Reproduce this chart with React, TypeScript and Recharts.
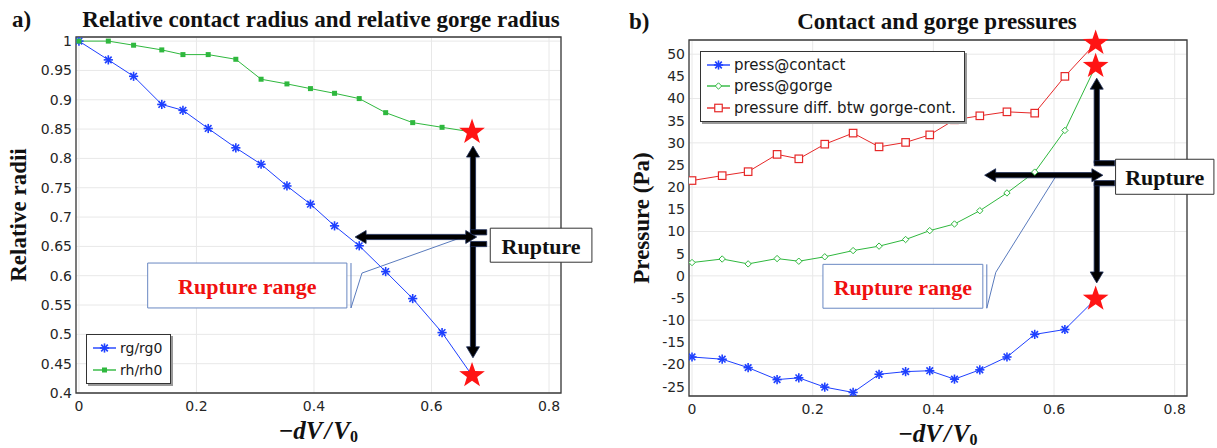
import {
  LineChart,
  Line,
  XAxis,
  YAxis,
  CartesianGrid,
  Legend,
  ReferenceLine,
  ReferenceArea,
  ReferenceDot,
} from 'recharts';

// −dV/V0 sample positions, shared by both panels
const volumeRatio = [0, 0.05, 0.093, 0.141, 0.177, 0.22, 0.267, 0.31, 0.354, 0.394, 0.435, 0.477, 0.522, 0.568, 0.618, 0.669];

// panel a) relative radii
const rgRatio = [1.0, 0.968, 0.94, 0.892, 0.882, 0.851, 0.818, 0.79, 0.753, 0.722, 0.685, 0.651, 0.607, 0.561, 0.503, 0.43];
const rhRatio = [1.0, 1.0, 0.993, 0.985, 0.977, 0.977, 0.969, 0.935, 0.927, 0.919, 0.911, 0.902, 0.878, 0.861, 0.853, 0.845];

// panel b) pressures (Pa)
const pressContact = [-18.3, -18.8, -20.7, -23.4, -23.0, -25.1, -26.3, -22.2, -21.6, -21.4, -23.3, -21.2, -18.3, -13.2, -12.1, -5.2];
const pressGorge = [3.0, 3.8, 2.7, 3.9, 3.3, 4.3, 5.7, 6.7, 8.2, 10.2, 11.7, 14.7, 18.7, 23.4, 32.8, 47.3];
const pressDiff = [21.5, 22.6, 23.5, 27.4, 26.4, 29.7, 32.2, 29.1, 30.1, 31.8, 35.2, 36.1, 37.0, 36.7, 45.0, 52.5];

const xTicks = [0, 0.2, 0.4, 0.6, 0.8];
const radiiTicks = [0.4, 0.45, 0.5, 0.55, 0.6, 0.65, 0.7, 0.75, 0.8, 0.85, 0.9, 0.95, 1];
const pressureTicks = [-25, -20, -15, -10, -5, 0, 5, 10, 15, 20, 25, 30, 35, 40, 45, 50];

const radiiData = volumeRatio.map((x, i) => ({ x, rg: rgRatio[i], rh: rhRatio[i] }));
const pressureData = volumeRatio.map((x, i) => ({
  x,
  contact: pressContact[i],
  gorge: pressGorge[i],
  diff: pressDiff[i],
}));
// the last sample is the rupture point, marked with a star instead of the series marker
const last = volumeRatio.length - 1;

const X_DOMAIN: [number, number] = [-0.005, 0.8204];
const RADII_DOMAIN: [number, number] = [0.4, 1.007];
const PRESSURE_DOMAIN: [number, number] = [-27.1, 53.2];

const BLUE = '#1e40ff';
const GREEN = '#2fb83e';
const RED = '#e62828';
const CALLOUT = '#5a7bbd';
const SERIF = '"Liberation Serif", "Times New Roman", serif';
const SANS = '"DejaVu Sans", sans-serif';

const tickStyle = { fill: '#262626', fontSize: 14, fontFamily: SANS };

// ---- markers ----
const Asterisk = ({ cx, cy, color, r = 4.6 }: any) => {
  const d = r * 0.72;
  return (
    <g stroke={color} strokeWidth={1.6}>
      <line x1={cx - r} y1={cy} x2={cx + r} y2={cy} />
      <line x1={cx} y1={cy - r} x2={cx} y2={cy + r} />
      <line x1={cx - d} y1={cy - d} x2={cx + d} y2={cy + d} />
      <line x1={cx - d} y1={cy + d} x2={cx + d} y2={cy - d} />
    </g>
  );
};

const Square = ({ cx, cy, color, size, filled }: any) => (
  <rect
    x={cx - size / 2}
    y={cy - size / 2}
    width={size}
    height={size}
    fill={filled ? color : '#fff'}
    stroke={color}
    strokeWidth={filled ? 0 : 1.2}
  />
);

const Diamond = ({ cx, cy, color, r = 3.2 }: any) => (
  <polygon
    points={`${cx},${cy - r} ${cx + r},${cy} ${cx},${cy + r} ${cx - r},${cy}`}
    fill="#fff"
    stroke={color}
    strokeWidth={1}
  />
);

// series dot that leaves the rupture point free for the star
const seriesDot = (id: string, draw: (cx: number, cy: number) => any) => (p: any) =>
  p.index === last ? <g key={`${id}-${p.index}`} /> : <g key={`${id}-${p.index}`}>{draw(p.cx, p.cy)}</g>;

const starShape = (props: any) => {
  const { cx, cy } = props;
  const pts: string[] = [];
  for (let i = 0; i < 10; i++) {
    const rad = i % 2 === 0 ? 13.5 : 5.4;
    const a = -Math.PI / 2 + (i * Math.PI) / 5;
    pts.push(`${cx + rad * Math.cos(a)},${cy + rad * Math.sin(a)}`);
  }
  return <polygon points={pts.join(' ')} fill="#ff1414" />;
};

// thick black annotation arrow drawn along a reference segment
const arrowShape = (heads: 'start' | 'end' | 'both' | 'none') => (props: any) => {
  const { x1, y1, x2, y2 } = props;
  const dx = x2 - x1;
  const dy = y2 - y1;
  const len = Math.hypot(dx, dy) || 1;
  const ux = dx / len;
  const uy = dy / len;
  const nx = -uy;
  const ny = ux;
  const shaft = 2.6;
  const headW = 6.5;
  const headL = 11;
  const pt = (along: number, across: number) =>
    `${x1 + ux * along + nx * across},${y1 + uy * along + ny * across}`;
  const hasStart = heads === 'start' || heads === 'both';
  const hasEnd = heads === 'end' || heads === 'both';
  const pts: string[] = [];
  if (hasStart) pts.push(pt(0, 0), pt(headL, headW), pt(headL, shaft));
  else pts.push(pt(0, shaft));
  if (hasEnd) pts.push(pt(len - headL, shaft), pt(len - headL, headW), pt(len, 0), pt(len - headL, -headW), pt(len - headL, -shaft));
  else pts.push(pt(len, shaft), pt(len, -shaft));
  if (hasStart) pts.push(pt(headL, -shaft), pt(headL, -headW));
  else pts.push(pt(0, -shaft));
  return <polygon points={pts.join(' ')} fill="#000" stroke="#1c2c58" strokeWidth={0.8} />;
};

const boxText = (text: string, color: string) => (props: any) => {
  const { x, y, width, height } = props.viewBox;
  return (
    <text
      x={x + width / 2}
      y={y + height / 2 + 1}
      dy="0.35em"
      textAnchor="middle"
      fontFamily={SERIF}
      fontWeight="bold"
      fontSize={22}
      fill={color}
    >
      {text}
    </text>
  );
};

const yLabel = (text: string, cxOffset: number) => (props: any) => {
  const { x, y, height } = props.viewBox;
  const cx = x + cxOffset;
  const cy = y + height / 2;
  return (
    <text
      x={cx}
      y={cy}
      dy="0.35em"
      transform={`rotate(-90, ${cx}, ${cy})`}
      textAnchor="middle"
      fontFamily={SERIF}
      fontWeight="bold"
      fontSize={23}
      fill="#111"
    >
      {text}
    </text>
  );
};

const xLabel = (props: any) => {
  const { x, y, width } = props.viewBox;
  return (
    <text
      x={x + width / 2}
      y={y + 46}
      textAnchor="middle"
      fontFamily={SERIF}
      fontWeight="bold"
      fontSize={25}
      fill="#111"
    >
      <tspan>−</tspan>
      <tspan fontStyle="italic">dV</tspan>
      <tspan fontStyle="italic" dx={2}>/</tspan>
      <tspan fontStyle="italic" dx={2}>V</tspan>
      <tspan fontSize={16} dy={3}>0</tspan>
    </text>
  );
};

const renderLegend = (items: Array<{ name: string; color: string; marker: (cx: number, cy: number) => any }>, fontSize: number, rowH: number) => () => (
  <div
    style={{
      border: '1px solid #333',
      background: '#fff',
      boxShadow: '2px 2px 0 #9a9a9a',
      padding: '2px 8px 2px 6px',
      fontFamily: SANS,
      fontSize,
      color: '#1a1a1a',
      whiteSpace: 'nowrap',
    }}
  >
    {items.map((it) => (
      <div key={it.name} style={{ display: 'flex', alignItems: 'center', height: rowH }}>
        <svg width={23} height={12} style={{ overflow: 'visible' }}>
          <line x1={0} y1={6} x2={23} y2={6} stroke={it.color} strokeWidth={1.4} />
          {it.marker(11.5, 6)}
        </svg>
        <span style={{ marginLeft: 4 }}>{it.name}</span>
      </div>
    ))}
  </div>
);

const titleStyle = {
  position: 'absolute' as const,
  fontFamily: SERIF,
  fontWeight: 'bold' as const,
  fontSize: 23,
  lineHeight: '26px',
  color: '#111',
  whiteSpace: 'nowrap' as const,
};

const RadiiChart = () => (
  <LineChart width={600} height={448} data={radiiData} margin={{ top: 37, right: 39, bottom: 25, left: 0 }}>
    <CartesianGrid stroke="#e8e8e8" />
    <XAxis
      type="number"
      dataKey="x"
      domain={X_DOMAIN}
      ticks={xTicks}
      allowDataOverflow
      height={30}
      tickLine={false}
      axisLine={false}
      tick={tickStyle}
      label={xLabel}
    />
    <YAxis
      type="number"
      domain={RADII_DOMAIN}
      ticks={radiiTicks}
      allowDataOverflow
      width={76}
      tickSize={4}
      tickMargin={0}
      tickLine={false}
      axisLine={false}
      tick={tickStyle}
      label={yLabel('Relative radii', 18)}
    />
    <ReferenceArea x1={X_DOMAIN[0]} x2={X_DOMAIN[1]} y1={RADII_DOMAIN[0]} y2={RADII_DOMAIN[1]} fill="none" stroke="#3a3a3a" strokeWidth={1.3} ifOverflow="visible" />

    {/* callout from the rupture range box */}
    <ReferenceLine segment={[{ x: 0.463, y: 0.6216 }, { x: 0.463, y: 0.545 }]} stroke={CALLOUT} strokeWidth={1} ifOverflow="visible" />
    <ReferenceLine segment={[{ x: 0.463, y: 0.545 }, { x: 0.4817, y: 0.6045 }]} stroke={CALLOUT} strokeWidth={1} ifOverflow="visible" />
    <ReferenceLine segment={[{ x: 0.4817, y: 0.6045 }, { x: 0.672, y: 0.6727 }]} stroke={CALLOUT} strokeWidth={1} ifOverflow="visible" />
    <ReferenceArea x1={0.117} x2={0.456} y1={0.545} y2={0.6216} fill="#fff" fillOpacity={1} stroke="#6a88c2" strokeWidth={1} ifOverflow="visible" label={boxText('Rupture range', '#f01010')} />

    <Line
      type="linear"
      dataKey="rg"
      stroke={BLUE}
      strokeWidth={1}
      isAnimationActive={false}
      activeDot={false}
      dot={seriesDot('rg', (cx, cy) => <Asterisk cx={cx} cy={cy} color={BLUE} />)}
    />
    <Line
      type="linear"
      dataKey="rh"
      stroke={GREEN}
      strokeWidth={1}
      isAnimationActive={false}
      activeDot={false}
      dot={seriesDot('rh', (cx, cy) => <Square cx={cx} cy={cy} color={GREEN} size={5} filled />)}
    />

    {/* rupture arrows */}
    <ReferenceLine segment={[{ x: 0.6706, y: 0.821 }, { x: 0.6706, y: 0.674 }]} shape={arrowShape('start')} ifOverflow="visible" />
    <ReferenceLine segment={[{ x: 0.6706, y: 0.654 }, { x: 0.6706, y: 0.46 }]} shape={arrowShape('end')} ifOverflow="visible" />
    <ReferenceLine segment={[{ x: 0.6663, y: 0.674 }, { x: 0.694, y: 0.674 }]} shape={arrowShape('none')} ifOverflow="visible" />
    <ReferenceLine segment={[{ x: 0.6663, y: 0.654 }, { x: 0.694, y: 0.654 }]} shape={arrowShape('none')} ifOverflow="visible" />
    <ReferenceLine segment={[{ x: 0.47, y: 0.666 }, { x: 0.677, y: 0.666 }]} shape={arrowShape('both')} ifOverflow="visible" />
    <ReferenceArea x1={0.7} x2={0.873} y1={0.623} y2={0.681} fill="#fff" fillOpacity={1} stroke="#333" strokeWidth={1} ifOverflow="visible" label={boxText('Rupture', '#111')} />

    <ReferenceDot x={volumeRatio[last]} y={rhRatio[last]} shape={starShape} ifOverflow="visible" />
    <ReferenceDot x={volumeRatio[last]} y={rgRatio[last]} shape={starShape} ifOverflow="visible" />

    <Legend
      layout="vertical"
      align="center"
      verticalAlign="middle"
      wrapperStyle={{ left: 86, top: 334, width: 'auto' }}
      content={renderLegend(
        [
          { name: 'rg/rg0', color: BLUE, marker: (cx, cy) => <Asterisk cx={cx} cy={cy} color={BLUE} /> },
          { name: 'rh/rh0', color: GREEN, marker: (cx, cy) => <Square cx={cx} cy={cy} color={GREEN} size={5} filled /> },
        ],
        14,
        22,
      )}
    />
  </LineChart>
);

const PressureChart = () => (
  <LineChart width={607} height={448} data={pressureData} margin={{ top: 40, right: 30, bottom: 22, left: 0 }}>
    <CartesianGrid stroke="#e8e8e8" />
    <XAxis
      type="number"
      dataKey="x"
      domain={X_DOMAIN}
      ticks={xTicks}
      allowDataOverflow
      height={30}
      tickLine={false}
      axisLine={false}
      tick={tickStyle}
      label={xLabel}
    />
    <YAxis
      type="number"
      domain={PRESSURE_DOMAIN}
      ticks={pressureTicks}
      allowDataOverflow
      width={79}
      tickSize={4}
      tickMargin={0}
      tickLine={false}
      axisLine={false}
      tick={tickStyle}
      label={yLabel('Pressure (Pa)', 31)}
    />
    <ReferenceArea x1={X_DOMAIN[0]} x2={X_DOMAIN[1]} y1={PRESSURE_DOMAIN[0]} y2={PRESSURE_DOMAIN[1]} fill="none" stroke="#3a3a3a" strokeWidth={1.3} ifOverflow="visible" />

    <ReferenceLine segment={[{ x: 0.4886, y: 2.6 }, { x: 0.4886, y: -7.3 }]} stroke={CALLOUT} strokeWidth={1} ifOverflow="visible" />
    <ReferenceLine segment={[{ x: 0.4886, y: -7.3 }, { x: 0.5035, y: 0.8 }]} stroke={CALLOUT} strokeWidth={1} ifOverflow="visible" />
    <ReferenceLine segment={[{ x: 0.5035, y: 0.8 }, { x: 0.606, y: 23.1 }]} stroke={CALLOUT} strokeWidth={1} ifOverflow="visible" />
    <ReferenceArea x1={0.217} x2={0.482} y1={-7.3} y2={2.6} fill="#fff" fillOpacity={1} stroke="#6a88c2" strokeWidth={1} ifOverflow="visible" label={boxText('Rupture range', '#f01010')} />

    <Line
      type="linear"
      dataKey="contact"
      stroke={BLUE}
      strokeWidth={1}
      isAnimationActive={false}
      activeDot={false}
      dot={seriesDot('c', (cx, cy) => <Asterisk cx={cx} cy={cy} color={BLUE} />)}
    />
    <Line
      type="linear"
      dataKey="gorge"
      stroke={GREEN}
      strokeWidth={1}
      isAnimationActive={false}
      activeDot={false}
      dot={seriesDot('g', (cx, cy) => <Diamond cx={cx} cy={cy} color={GREEN} />)}
    />
    <Line
      type="linear"
      dataKey="diff"
      stroke={RED}
      strokeWidth={1}
      isAnimationActive={false}
      activeDot={false}
      dot={seriesDot('d', (cx, cy) => <Square cx={cx} cy={cy} color={RED} size={7.5} />)}
    />

    <ReferenceLine segment={[{ x: 0.6708, y: 44.6 }, { x: 0.6708, y: 25.4 }]} shape={arrowShape('start')} ifOverflow="visible" />
    <ReferenceLine segment={[{ x: 0.6708, y: 20.9 }, { x: 0.6708, y: -1.6 }]} shape={arrowShape('end')} ifOverflow="visible" />
    <ReferenceLine segment={[{ x: 0.6665, y: 25.4 }, { x: 0.7006, y: 25.4 }]} shape={arrowShape('none')} ifOverflow="visible" />
    <ReferenceLine segment={[{ x: 0.6665, y: 20.9 }, { x: 0.7006, y: 20.9 }]} shape={arrowShape('none')} ifOverflow="visible" />
    <ReferenceLine segment={[{ x: 0.485, y: 22.7 }, { x: 0.681, y: 22.7 }]} shape={arrowShape('both')} ifOverflow="visible" />
    <ReferenceArea x1={0.702} x2={0.865} y1={18.4} y2={26.3} fill="#fff" fillOpacity={1} stroke="#333" strokeWidth={1} ifOverflow="visible" label={boxText('Rupture', '#111')} />

    <ReferenceDot x={volumeRatio[last]} y={pressDiff[last]} shape={starShape} ifOverflow="visible" />
    <ReferenceDot x={volumeRatio[last]} y={pressGorge[last]} shape={starShape} ifOverflow="visible" />
    <ReferenceDot x={volumeRatio[last]} y={pressContact[last]} shape={starShape} ifOverflow="visible" />

    <Legend
      layout="vertical"
      align="center"
      verticalAlign="middle"
      wrapperStyle={{ left: 90, top: 51, width: 'auto' }}
      content={renderLegend(
        [
          { name: 'press@contact', color: BLUE, marker: (cx, cy) => <Asterisk cx={cx} cy={cy} color={BLUE} /> },
          { name: 'press@gorge', color: GREEN, marker: (cx, cy) => <Diamond cx={cx} cy={cy} color={GREEN} /> },
          { name: 'pressure diff. btw gorge-cont.', color: RED, marker: (cx, cy) => <Square cx={cx} cy={cy} color={RED} size={7.5} /> },
        ],
        15,
        21.5,
      )}
    />
  </LineChart>
);

export default function App() {
  return (
    <div style={{ position: 'fixed', left: 0, top: 0, width: 1217, height: 448, background: '#fff', overflow: 'hidden' }}>
      <div style={{ position: 'absolute', left: 0, top: 0 }}>
        <RadiiChart />
      </div>
      <div style={{ position: 'absolute', left: 610, top: 0 }}>
        <PressureChart />
      </div>
      <div style={{ ...titleStyle, left: 12, top: 7 }}>a)</div>
      <div style={{ ...titleStyle, left: 0, top: 7, width: 642, textAlign: 'center' }}>
        Relative contact radius and relative gorge radius
      </div>
      <div style={{ ...titleStyle, left: 629, top: 9 }}>b)</div>
      <div style={{ ...titleStyle, left: 637, top: 9, width: 600, textAlign: 'center' }}>
        Contact and gorge pressures
      </div>
    </div>
  );
}
